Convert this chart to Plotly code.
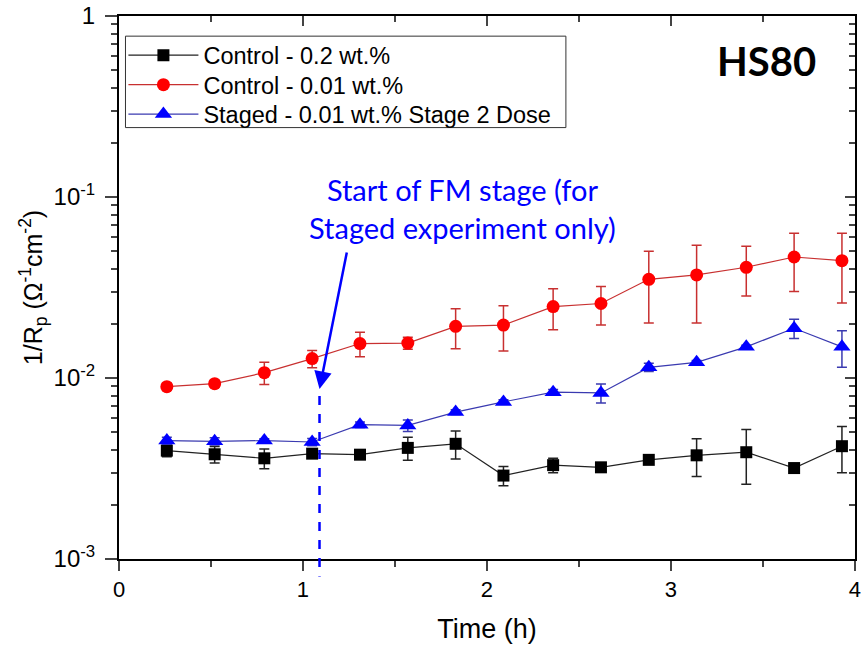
import plotly.graph_objects as go
import numpy as np

# ---------------- data ----------------
time_h = [0.26, 0.52, 0.79, 1.05, 1.31, 1.57, 1.83, 2.09, 2.36, 2.62, 2.88, 3.14, 3.41, 3.67, 3.93]

ctrl02 = [0.00397, 0.00379, 0.00360, 0.00382, 0.00377, 0.00411, 0.00433, 0.00289, 0.00330,
          0.00321, 0.00353, 0.00374, 0.00389, 0.00318, 0.00420]
ctrl02_err = [0.0003, 0.0004, 0.00045, 0.0002, 0.0002, 0.0006, 0.00076, 0.00035, 0.0003,
              0.0001, 0.0001, 0.00088, 0.0013, 0.0001, 0.0012]

ctrl001 = [0.00896, 0.00930, 0.0107, 0.0128, 0.0155, 0.0156, 0.0193, 0.0196, 0.0248,
           0.0258, 0.0351, 0.0371, 0.0409, 0.0466, 0.0445]
ctrl001_err = [0.0004, 0.0004, 0.0015, 0.0014, 0.0024, 0.0012, 0.0048, 0.0055, 0.0063,
               0.0062, 0.0150, 0.0170, 0.0125, 0.0165, 0.0185]

staged = [0.00451, 0.00447, 0.00451, 0.00443, 0.00552, 0.00547, 0.00648, 0.00738, 0.00835,
          0.00827, 0.01145, 0.0122, 0.01486, 0.01882, 0.01486]
staged_err = [0.0002, 0.0002, 0.0001, 0.0002, 0.0002, 0.0004, 0.0002, 0.0002, 0.0003,
              0.0010, 0.0006, 0.0003, 0.0003, 0.0023, 0.0034]

series_names = ["Control - 0.2 wt.%", "Control - 0.01 wt.%", "Staged - 0.01 wt.% Stage 2 Dose"]
x_ticks = [0, 1, 2, 3, 4]
y_tickvals = [0.001, 0.01, 0.1, 1]
y_ticktext = ["10<sup>-3</sup>", "10<sup>-2</sup>", "10<sup>-1</sup>", "1"]
stage_start = 1.09
arrow_tail = (1.24, 0.0503)
arrow_head_y = 0.0087

FONT = "Arial, Liberation Sans, sans-serif"

fig = go.Figure()

def add_series(y, err, name, mcol, lcol, sym, size, legend):
    fig.add_trace(go.Scatter(
        x=time_h, y=y, name=name, mode="lines+markers", legend=legend,
        line=dict(color=lcol, width=1.2),
        marker=dict(symbol=sym, size=size, color=mcol, line=dict(width=0)),
        error_y=dict(type="data", array=err, visible=True, color=lcol, thickness=1.5, width=5),
    ))

add_series(ctrl02, ctrl02_err, series_names[0], "#000000", "#222222", "square", 12, "legend")
add_series(ctrl001, ctrl001_err, series_names[1], "#ff0000", "#c83030", "circle", 13, "legend2")
add_series(staged, staged_err, series_names[2], "#0000ff", "#3a3ab0", "triangle-up", 15, "legend3")

# invisible trace to carry the mirrored top/right axes
fig.add_trace(go.Scatter(x=[0, 4], y=[0.001, 1], xaxis="x2", yaxis="y2",
                         mode="markers", marker=dict(opacity=0), showlegend=False, hoverinfo="skip"))

# dashed line marking stage start
fig.add_shape(type="line", xref="x", yref="paper", x0=stage_start, x1=stage_start,
              y0=0.300, y1=-0.032, line=dict(color="#0000ff", width=2.5, dash="dash"))

# legend frame
fig.add_shape(type="rect", xref="paper", yref="paper", x0=0.0088, x1=0.6072, y0=0.7945, y1=0.9629,
              line=dict(color="#333333", width=1), fillcolor="rgba(0,0,0,0)")

# arrow
fig.add_annotation(x=stage_start, y=np.log10(arrow_head_y), ax=arrow_tail[0], ay=np.log10(arrow_tail[1]),
                   xref="x", yref="y", axref="x", ayref="y", text="", showarrow=True,
                   arrowhead=2, arrowsize=1.4, arrowwidth=2.5, arrowcolor="#0000ff")

# text annotation
fig.add_annotation(x=1.87, y=0.645, xref="x", yref="paper",
                   text="Start of FM stage (for<br>Staged experiment only)",
                   showarrow=False, align="center",
                   font=dict(family="Lato, Carlito, sans-serif", size=29, color="#0000ff"))

fig.add_annotation(x=3.52, y=0.965, xref="x", yref="paper", text="<b>HS80</b>",
                   showarrow=False, font=dict(family="Lato, sans-serif", size=40, color="#000000"))

axis_common = dict(showline=True, linecolor="black", linewidth=2, showgrid=False, zeroline=False,
                   automargin=False)

legend_common = dict(x=0.006, xanchor="left", yanchor="middle", borderwidth=0,
                     bgcolor="rgba(0,0,0,0)", font=dict(family=FONT, size=23.5), itemwidth=70)

fig.update_layout(
    width=861, height=647,
    margin=dict(l=119, r=6, t=16, b=88),
    paper_bgcolor="white", plot_bgcolor="white",
    font=dict(family=FONT, color="black"),
    showlegend=True,
    legend=dict(y=0.9274, **legend_common),
    legend2=dict(y=0.8732, **legend_common),
    legend3=dict(y=0.8189, **legend_common),
    xaxis=dict(range=[0, 4.001], tickvals=x_ticks, ticks="outside", ticklen=10, tickwidth=2,
               tickfont=dict(size=22, family=FONT), mirror=True,
               minor=dict(ticks="outside", dtick=0.5, ticklen=6, tickwidth=2),
               title=dict(text="Time (h)", font=dict(size=27, family=FONT), standoff=18),
               **axis_common),
    yaxis=dict(type="log", range=[-3, 0], tickvals=y_tickvals, ticktext=y_ticktext,
               ticks="outside", ticklen=12, tickwidth=2, mirror=True, ticklabelstandoff=5,
               tickfont=dict(size=24, family=FONT),
               minor=dict(ticks="outside", dtick="D1", ticklen=6, tickwidth=1.5),
               title=dict(text="1/R<sub>p</sub> (Ω<sup>-1</sup>cm<sup>-2</sup>)",
                          font=dict(size=25, family=FONT), standoff=4),
               **axis_common),
    xaxis2=dict(range=[0, 4.001], overlaying="x", side="top", tickvals=x_ticks, ticks="inside",
                ticklen=10, tickwidth=2, showticklabels=False,
                minor=dict(ticks="inside", dtick=0.5, ticklen=6, tickwidth=2), **axis_common),
    yaxis2=dict(type="log", range=[-3, 0], overlaying="y", side="right", tickvals=y_tickvals,
                ticks="inside", ticklen=10, tickwidth=2, showticklabels=False,
                minor=dict(ticks="inside", dtick="D1", ticklen=6, tickwidth=1.5), **axis_common),
)

fig.write_html("out.html", config={"displayModeBar": False},
               post_script="document.body.style.margin='0px';")
